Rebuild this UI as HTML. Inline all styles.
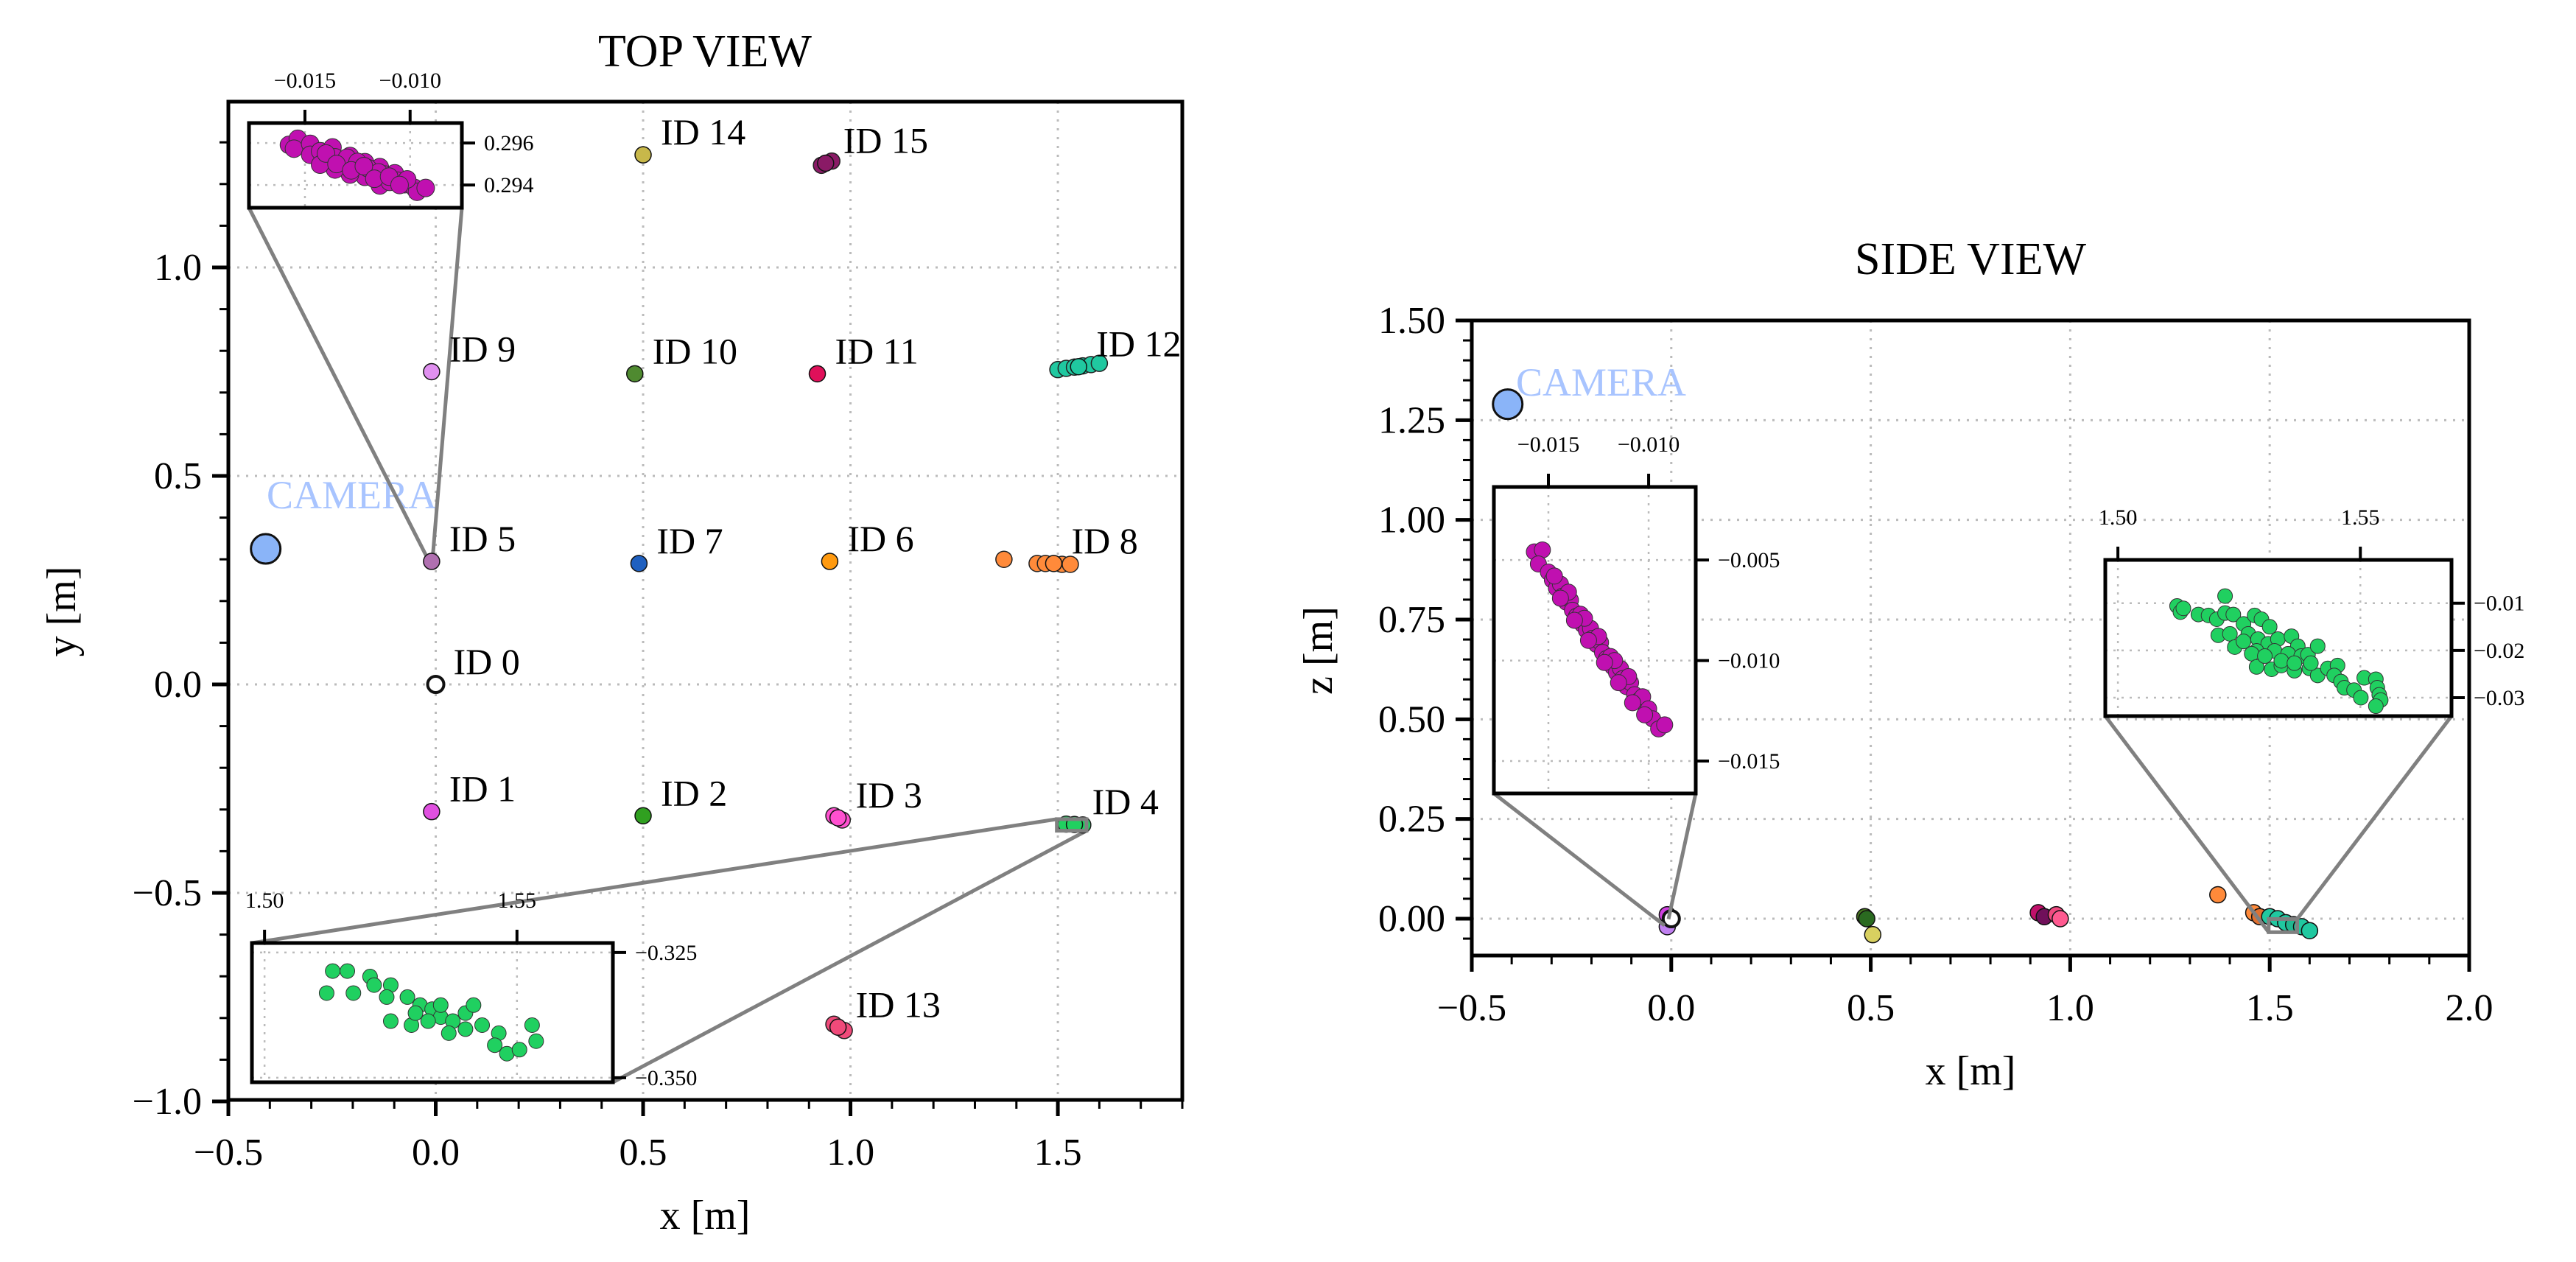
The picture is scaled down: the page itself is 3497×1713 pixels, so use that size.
<!DOCTYPE html>
<html><head><meta charset="utf-8"><style>
html,body{margin:0;padding:0;background:#fff;}
svg{display:block;font-family:"Liberation Serif",serif;}
</style></head><body>
<svg id="fig" width="3497" height="1713" viewBox="0 0 3497 1713" xmlns="http://www.w3.org/2000/svg"></svg>
<script>
// ---------- DATA ----------
const topIds   = ["ID 14","ID 15","ID 9","ID 10","ID 11","ID 12","ID 5","ID 7","ID 6","ID 8","ID 0","ID 1","ID 2","ID 3","ID 4","ID 13"];
const topX     = [0.50, 0.94, -0.01, 0.48, 0.92, 1.55, -0.01, 0.49, 0.95, 1.49, 0.00, -0.01, 0.50, 0.97, 1.54, 0.97];
const topY     = [1.27, 1.25, 0.75, 0.745, 0.745, 0.762, 0.295, 0.29, 0.295, 0.29, 0.00, -0.305, -0.315, -0.32, -0.336, -0.822];
const topColors= ["#c8b84a","#8a1a66","#e090f0","#4f8a30","#e0105a","#20c8a0","#b070b0","#1f60c0","#ff9a10","#ff8a3a","#ffffff","#e050e0","#30a020","#ff50d0","#20d060","#f04a7a"];
const clusterX = [0.93,0.955, 1.50,1.52,1.54,1.56,1.58,1.60, 1.45,1.47,1.51,1.53,1.37, 0.96,0.98, 1.52,1.56, 0.96,0.985];
const clusterY = [1.245,1.255, 0.755,0.758,0.761,0.764,0.767,0.770, 0.29,0.29,0.288,0.288,0.30, -0.315,-0.325, -0.335,-0.337, -0.815,-0.83];
const clusterC = [1,1, 5,5,5,5,5,5, 9,9,9,9,9, 13,13, 14,14, 15,15];
const cameraTop = [-0.41, 0.325];

const in1X = [-0.01576,-0.01534,-0.01552,-0.01475,-0.01475,-0.01428,-0.01404,-0.01369,-0.01357,-0.01310,-0.01286,-0.01251,-0.01215,-0.01191,-0.01144,-0.01121,-0.01073,-0.01061,-0.01026,-0.00979,-0.00967,-0.00926,-0.01144,-0.01215,-0.01286,-0.01357,-0.01428,-0.01097,-0.01014,-0.0130,-0.0125,-0.0120,-0.0115,-0.0140,-0.0135,-0.0128,-0.0122,-0.0117,-0.0110,-0.0105];
const in1Y = [0.29591,0.29620,0.29573,0.29596,0.29544,0.29561,0.29520,0.29579,0.29532,0.29509,0.29538,0.29485,0.29509,0.29462,0.29485,0.29450,0.29456,0.29421,0.29404,0.29386,0.29368,0.29386,0.29398,0.29439,0.29450,0.29474,0.29497,0.29415,0.29427,0.2953,0.2951,0.2948,0.2946,0.2955,0.2950,0.2947,0.2949,0.2943,0.2944,0.2940];
const in2X = [1.5135,1.5164,1.5123,1.5176,1.5209,1.5217,1.5250,1.5242,1.5283,1.5308,1.5332,1.5250,1.5291,1.5349,1.5373,1.5398,1.5414,1.5365,1.5398,1.5431,1.5464,1.5456,1.5480,1.5505,1.5530,1.5538,1.5299,1.5324,1.5349];
const in2Y = [-0.3287,-0.3287,-0.3331,-0.3331,-0.3298,-0.3315,-0.3315,-0.3339,-0.3339,-0.3355,-0.3363,-0.3387,-0.3395,-0.3379,-0.3387,-0.3371,-0.3355,-0.3411,-0.3403,-0.3395,-0.3411,-0.3435,-0.3452,-0.3444,-0.3395,-0.3427,-0.3371,-0.3387,-0.3355];

const sideX = [-0.01,-0.01,0.00, 0.485,0.49,0.505, 0.92,0.935,0.965,0.975, 1.37,1.46,1.475, 1.50,1.52,1.54,1.56,1.58,1.60];
const sideZ = [0.01,-0.02,0.00, 0.005,0.0,-0.04, 0.015,0.005,0.01,0.0, 0.06,0.015,0.005, 0.005,0.0,-0.01,-0.015,-0.02,-0.03];
const sideC = ["#d040e0","#c080f0","#ffffff", "#4a7a20","#2a6a20","#d8d060", "#c0106a","#70105a","#f04a80","#ff5a90", "#ff8a3a","#ff8a3a","#e07030", "#20c8a0","#20c8a0","#20c8a0","#20b890","#20c8a0","#20c8a0"];
const cameraSide = [-0.41, 1.29];
const inAX = [-0.0157,-0.0153,-0.0155,-0.0150,-0.0148,-0.0146,-0.0144,-0.0143,-0.0141,-0.0139,-0.0138,-0.0136,-0.0134,-0.0133,-0.0131,-0.0129,-0.0128,-0.0126,-0.0124,-0.0123,-0.0121,-0.0119,-0.0118,-0.0116,-0.0114,-0.0113,-0.0111,-0.0109,-0.0107,-0.0105,-0.0103,-0.0100,-0.0098,-0.0095,-0.0092,-0.0147,-0.0140,-0.0132,-0.0125,-0.0117,-0.0110,-0.0144,-0.0137,-0.0130,-0.0122,-0.0115,-0.0108,-0.0102];
const inAZ = [-0.0046,-0.0045,-0.0052,-0.0056,-0.0060,-0.0064,-0.0062,-0.0068,-0.0071,-0.0070,-0.0075,-0.0078,-0.0077,-0.0082,-0.0085,-0.0084,-0.0089,-0.0092,-0.0091,-0.0096,-0.0099,-0.0098,-0.0103,-0.0106,-0.0104,-0.0109,-0.0113,-0.0111,-0.0117,-0.0120,-0.0118,-0.0124,-0.0129,-0.0134,-0.0132,-0.0058,-0.0066,-0.0079,-0.0088,-0.0100,-0.0108,-0.0069,-0.0080,-0.0090,-0.0101,-0.0111,-0.0121,-0.0127];
const inBX = [1.5122,1.5129,1.5135,1.5166,1.5187,1.5204,1.5221,1.5221,1.5238,1.5207,1.5231,1.5241,1.5259,1.5282,1.5296,1.5313,1.5269,1.5289,1.5310,1.5330,1.5358,1.5371,1.5286,1.5276,1.5323,1.5351,1.5378,1.5392,1.5412,1.5286,1.5317,1.5337,1.5364,1.5395,1.5412,1.5433,1.5453,1.5446,1.5460,1.5467,1.5487,1.5501,1.5508,1.5532,1.5535,1.5539,1.5542,1.5532,1.5259,1.5337,1.5303,1.5398,1.5364];
const inBZ = [-0.0106,-0.0119,-0.0111,-0.0124,-0.0126,-0.0134,-0.0085,-0.0121,-0.0124,-0.0168,-0.0165,-0.0193,-0.0144,-0.0126,-0.0134,-0.0150,-0.0165,-0.0176,-0.0186,-0.0176,-0.0170,-0.0191,-0.0201,-0.0207,-0.0201,-0.0207,-0.0212,-0.0209,-0.0191,-0.0235,-0.0240,-0.0232,-0.0243,-0.0238,-0.0253,-0.0238,-0.0232,-0.0253,-0.0266,-0.0279,-0.0284,-0.0300,-0.0258,-0.0261,-0.0279,-0.0294,-0.0305,-0.0318,-0.0181,-0.0222,-0.0212,-0.0227,-0.0227];

const topXTicks = [-0.5,0.0,0.5,1.0,1.5];
const topYTicks = [-1.0,-0.5,0.0,0.5,1.0];
const sideXTicks = [-0.5,0.0,0.5,1.0,1.5,2.0];
const sideZTicks = [0.00,0.25,0.50,0.75,1.00,1.25,1.50];

// ---------- DRAW ----------
const NS="http://www.w3.org/2000/svg";
const svg=document.getElementById('fig');
function el(tag,attrs,parent,text){const e=document.createElementNS(NS,tag);for(const k in attrs)e.setAttribute(k,attrs[k]);if(text!==undefined)e.textContent=text;(parent||svg).appendChild(e);return e;}
function mk(a,b,c,d){return v=>c+(v-a)*(d-c)/(b-a);}
function fmt(v,d){return (v<0?"\u2212":"")+Math.abs(v).toFixed(d);}

const TX=mk(-0.5,1.8,310,1605), TY=mk(0,1,929,363);
const SX=mk(-0.5,2.0,1998,3352), SZ=mk(0,1.5,1247,435);

function axesFrame(g,x0,x1,y0,y1,xs,ys,xmaj,ymaj,xmin,ymin,xd,yd,name){
  xmaj.forEach(v=>{const p=xs(v);if(p>x0+2&&p<x1-2){const l=el('line',{x1:p,x2:p,y1:y0,y2:y1,stroke:'#bbb','stroke-width':3,'stroke-dasharray':'3 9'},g);}});
  ymaj.forEach(v=>{const p=ys(v);if(p>y0+2&&p<y1-2){const l=el('line',{x1:x0,x2:x1,y1:p,y2:p,stroke:'#bbb','stroke-width':3,'stroke-dasharray':'3 9'},g);}});
  const r=el('rect',{x:x0,y:y0,width:x1-x0,height:y1-y0,fill:'none',stroke:'#000','stroke-width':5},g);
  
  xmin.forEach(v=>{const p=xs(v);el('line',{x1:p,x2:p,y1:y1,y2:y1+12,stroke:'#000','stroke-width':3},g);});
  ymin.forEach(v=>{const p=ys(v);el('line',{x1:x0,x2:x0-12,y1:p,y2:p,stroke:'#000','stroke-width':3},g);});
  xmaj.forEach(v=>{const p=xs(v);el('line',{x1:p,x2:p,y1:y1,y2:y1+22,stroke:'#000','stroke-width':5},g);
    const t=el('text',{x:p,y:y1+88,'text-anchor':'middle','font-size':52},g,fmt(v,xd));
    });
  ymaj.forEach(v=>{const p=ys(v);el('line',{x1:x0,x2:x0-22,y1:p,y2:p,stroke:'#000','stroke-width':5},g);
    const t=el('text',{x:x0-36,y:p+17,'text-anchor':'end','font-size':52},g,fmt(v,yd));
    });
}
function rng(a,b,s){const o=[];for(let v=a;v<=b+1e-9;v+=s)o.push(Math.round(v*1000)/1000);return o;}
function dot(g,x,y,r,fill,stroke,sw){return el('circle',{cx:x,cy:y,r:r,fill:fill,stroke:stroke||'#222','stroke-width':sw||1.5},g);}

// ===== TOP VIEW =====
const gT=el('g',{});
axesFrame(gT,310,1605,138,1493,TX,TY,topXTicks,topYTicks,rng(-0.5,1.8,0.1),rng(-1.0,1.39,0.1),1,1,'top-view');
let t=el('text',{x:957,y:90,'text-anchor':'middle','font-size':62},gT,'TOP VIEW');
t=el('text',{x:957,y:1668,'text-anchor':'middle','font-size':56},gT,'x [m]');
t=el('text',{x:0,y:0,'text-anchor':'middle','font-size':56,transform:'translate(102,830) rotate(-90)'},gT,'y [m]');

let c=dot(gT,TX(cameraTop[0]),TY(cameraTop[1]),20,'#8ab4f8','#111',3);
t=el('text',{x:362,y:690,'font-size':54,fill:'#a8c4ff'},gT,'CAMERA');

const i1={x0:-0.01766,x1:-0.00754,y0:0.29292,y1:0.29695,L:338,R:627,T:167,B:282};
const i2={x0:1.4975,x1:1.569,y0:-0.3509,y1:-0.3231,L:342,R:832,T:1280,B:1469};
el('line',{x1:i1.L,y1:i1.B,x2:TX(-0.015),y2:TY(0.293),stroke:'#808080','stroke-width':5},gT);
el('line',{x1:i1.R,y1:i1.B,x2:TX(-0.008),y2:TY(0.297),stroke:'#808080','stroke-width':5},gT);
el('line',{x1:i2.L,y1:i2.T,x2:TX(i2.x0),y2:TY(i2.y1),stroke:'#808080','stroke-width':5},gT);
el('line',{x1:i2.R,y1:i2.B,x2:TX(i2.x1),y2:TY(i2.y0),stroke:'#808080','stroke-width':5},gT);

for(let i=0;i<clusterX.length;i++){const d=dot(gT,TX(clusterX[i]),TY(clusterY[i]),11,topColors[clusterC[i]]);
  }
for(let i=0;i<topIds.length;i++){
  const px=TX(topX[i]),py=TY(topY[i]);
  const d=dot(gT,px,py,11,topColors[i],'#111',topIds[i]==='ID 0'?4:1.5);
  
  
  const lb=el('text',{x:px+24,y:py-14,'font-size':50},gT,topIds[i]);
  
  
}
el('rect',{x:TX(i2.x0),y:TY(i2.y1),width:TX(i2.x1)-TX(i2.x0),height:TY(i2.y0)-TY(i2.y1),fill:'none',stroke:'#808080','stroke-width':5},gT);

function inset(parent,I,xs_ticks,ys_ticks,xd,yd,xsArr,ysArr,color,name,rad){
  const g=el('g',{},parent);
  const xs=mk(I.x0,I.x1,I.L,I.R), ys=mk(I.y0,I.y1,I.B,I.T);
  el('rect',{x:I.L,y:I.T,width:I.R-I.L,height:I.B-I.T,fill:'#fff'},g);
  xs_ticks.forEach(v=>{const p=xs(v);el('line',{x1:p,x2:p,y1:I.T,y2:I.B,stroke:'#bbb','stroke-width':2.5,'stroke-dasharray':'3 8'},g);});
  ys_ticks.forEach(v=>{const p=ys(v);el('line',{x1:I.L,x2:I.R,y1:p,y2:p,stroke:'#bbb','stroke-width':2.5,'stroke-dasharray':'3 8'},g);});
  for(let i=0;i<xsArr.length;i++){const d=dot(g,xs(xsArr[i]),ys(ysArr[i]),rad,color,'#333',1);
    }
  el('rect',{x:I.L,y:I.T,width:I.R-I.L,height:I.B-I.T,fill:'none',stroke:'#000','stroke-width':5},g);
  xs_ticks.forEach(v=>{const p=xs(v);el('line',{x1:p,x2:p,y1:I.T,y2:I.T-18,stroke:'#000','stroke-width':4},g);
    const tt=el('text',{x:p,y:I.T-48,'text-anchor':'middle','font-size':30},g,fmt(v,xd));});
  ys_ticks.forEach(v=>{const p=ys(v);el('line',{x1:I.R,x2:I.R+18,y1:p,y2:p,stroke:'#000','stroke-width':4},g);
    const tt=el('text',{x:I.R+30,y:p+10,'font-size':30},g,fmt(v,yd));});
}
inset(gT,i1,[-0.015,-0.010],[0.294,0.296],3,3,in1X,in1Y,'#c010b0','top-inset-id5',12);
inset(gT,i2,[1.50,1.55],[-0.325,-0.350],2,3,in2X,in2Y,'#20d060','top-inset-id4',10);

// ===== SIDE VIEW =====
const gS=el('g',{});
axesFrame(gS,1998,3352,435,1297,SX,SZ,sideXTicks,sideZTicks,rng(-0.5,2.0,0.1),rng(-0.05,1.5,0.05),1,2,'side-view');
t=el('text',{x:2675,y:372,'text-anchor':'middle','font-size':62},gS,'SIDE VIEW');
t=el('text',{x:2675,y:1472,'text-anchor':'middle','font-size':56},gS,'x [m]');
t=el('text',{x:0,y:0,'text-anchor':'middle','font-size':56,transform:'translate(1808,883) rotate(-90)'},gS,'z [m]');
c=dot(gS,SX(cameraSide[0]),SZ(cameraSide[1]),20,'#8ab4f8','#111',3);
t=el('text',{x:2058,y:537,'font-size':54,fill:'#a8c4ff'},gS,'CAMERA');

const iA={x0:-0.01772,x1:-0.00765,y0:-0.01661,y1:-0.00137,L:2028,R:2302,T:661,B:1077};
const iB={x0:1.4974,x1:1.5688,y0:-0.0339,y1:-0.00085,L:2858,R:3328,T:760,B:972};
for(let i=0;i<sideX.length;i++){const d=dot(gS,SX(sideX[i]),SZ(sideZ[i]),11,sideC[i],'#111',sideC[i]==='#ffffff'?4:1.5);
  }
el('line',{x1:iA.L,y1:iA.B,x2:SX(-0.017),y2:SZ(-0.017),stroke:'#808080','stroke-width':5},gS);
el('line',{x1:iA.R,y1:iA.B,x2:SX(-0.007),y2:SZ(-0.001),stroke:'#808080','stroke-width':5},gS);
el('line',{x1:iB.L,y1:iB.B,x2:SX(iB.x0),y2:SZ(iB.y0),stroke:'#808080','stroke-width':5},gS);
el('line',{x1:iB.R,y1:iB.B,x2:SX(iB.x1),y2:SZ(iB.y1),stroke:'#808080','stroke-width':5},gS);
el('rect',{x:SX(iB.x0),y:SZ(iB.y1),width:SX(iB.x1)-SX(iB.x0),height:SZ(iB.y0)-SZ(iB.y1),fill:'none',stroke:'#808080','stroke-width':5},gS);
inset(gS,iA,[-0.015,-0.010],[-0.005,-0.010,-0.015],3,3,inAX,inAZ,'#c010b0','side-inset-id5',11);
inset(gS,iB,[1.50,1.55],[-0.01,-0.02,-0.03],2,2,inBX,inBZ,'#20d060','side-inset-id4',10);
</script>
</body></html>
